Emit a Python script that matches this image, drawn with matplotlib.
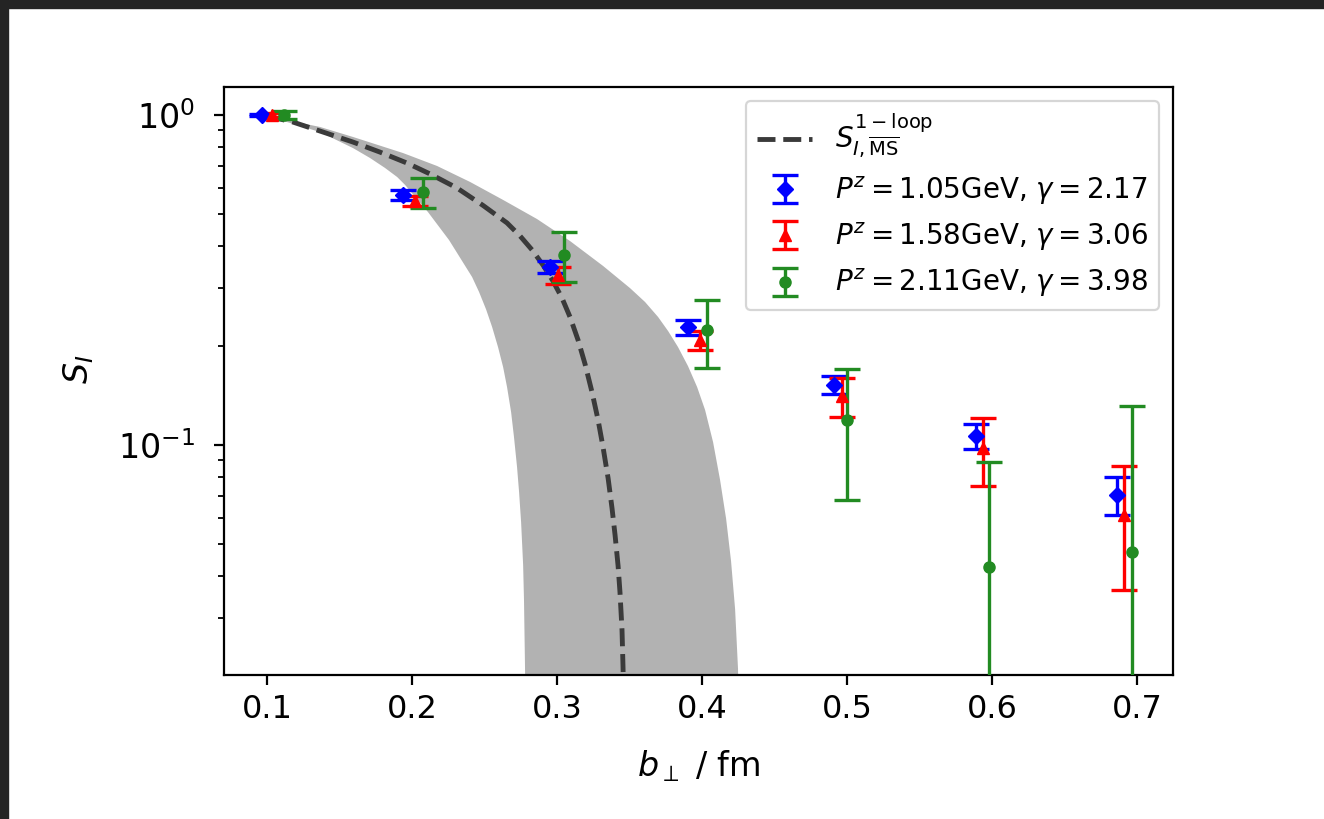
import numpy as np
import matplotlib
matplotlib.use("Agg")
import matplotlib.pyplot as plt
from matplotlib.patches import Rectangle

# ---------------- data ----------------
# one-loop curve (central) and its band edges: (b_perp [fm], S_I)
curve_b = [0.1000, 0.1179, 0.1366, 0.1593, 0.1779, 0.1966, 0.2124, 0.2310, 0.2490,
           0.2655, 0.2745, 0.2828, 0.2903, 0.2972, 0.3034, 0.3090, 0.3145, 0.3193,
           0.3241, 0.3283, 0.3317, 0.3352, 0.3379, 0.3400, 0.3421, 0.3434, 0.3448,
           0.3455, 0.3462]
curve_s = [0.993, 0.952, 0.894, 0.828, 0.772, 0.715, 0.663, 0.601, 0.532,
           0.471, 0.430, 0.390, 0.351, 0.314, 0.279, 0.244, 0.208, 0.176,
           0.1447, 0.1191, 0.0986, 0.0794, 0.0644, 0.0534, 0.0430, 0.0358, 0.0275,
           0.0212, 0.015]

band_lo_b = [0.1000, 0.1366, 0.1593, 0.1710, 0.1814, 0.1897, 0.1952, 0.2110, 0.2255,
             0.2414, 0.2462, 0.2510, 0.2552, 0.2593, 0.2628, 0.2655, 0.2683, 0.2703,
             0.2724, 0.2738, 0.2752, 0.2766, 0.2772, 0.2779, 0.2783]
band_lo_s = [0.993, 0.888, 0.794, 0.741, 0.691, 0.649, 0.614, 0.508, 0.418,
             0.323, 0.291, 0.258, 0.228, 0.198, 0.1723, 0.1499, 0.1259, 0.1057,
             0.0858, 0.0721, 0.0584, 0.0433, 0.0339, 0.0212, 0.015]

band_hi_b = [0.1000, 0.1366, 0.1593, 0.1938, 0.2172, 0.2400, 0.2628, 0.2862, 0.3090,
             0.3317, 0.3503, 0.3607, 0.3697, 0.3766, 0.3834, 0.3903, 0.3966, 0.4021,
             0.4076, 0.4124, 0.4166, 0.4200, 0.4228, 0.4248, 0.4255]
band_hi_s = [0.993, 0.920, 0.858, 0.767, 0.701, 0.627, 0.553, 0.484, 0.415,
             0.349, 0.299, 0.2713, 0.2443, 0.2215, 0.1982, 0.1735, 0.1499, 0.1277,
             0.1021, 0.0785, 0.0598, 0.0445, 0.0318, 0.0210, 0.015]

# lattice data
b_blue = [0.0966, 0.194, 0.295, 0.390, 0.491, 0.589, 0.686]
S_blue = [1.0, 0.572, 0.346, 0.228, 0.152, 0.1065, 0.0706]
e_blue = [0.010, 0.020, 0.015, 0.012, 0.0095, 0.009, 0.0092]

b_red = [0.1034, 0.202, 0.3007, 0.3986, 0.4966, 0.5938, 0.691]
S_red = [1.0, 0.549, 0.327, 0.208, 0.141, 0.098, 0.0614]
e_red = [0.012, 0.020, 0.020, 0.014, 0.019, 0.023, 0.025]

b_green = [0.1117, 0.2076, 0.3048, 0.4034, 0.500, 0.598, 0.6966]
S_green = [1.0, 0.584, 0.376, 0.223, 0.119, 0.0427, 0.0474]
e_green = [0.025, 0.062, 0.065, 0.052, 0.051, 0.046, 0.084]

x_ticks = [0.1, 0.2, 0.3, 0.4, 0.5, 0.6, 0.7]
x_ticklabels = ['0.1', '0.2', '0.3', '0.4', '0.5', '0.6', '0.7']

labels = [r'$S_{I,\overline{\rm MS}}^{1-{\rm loop}}$',
          r'$P^z = 1.05$GeV, $\gamma = 2.17$',
          r'$P^z = 1.58$GeV, $\gamma = 3.06$',
          r'$P^z = 2.11$GeV, $\gamma = 3.98$']

# ---------------- figure ----------------
plt.rcParams['font.family'] = ['DejaVu Sans']
plt.rcParams['mathtext.fontset'] = 'dejavusans'

fig = plt.figure(figsize=(13.24, 8.19), dpi=100)
ax = fig.add_axes([224/1324, 1-675/819, (1173-224)/1324, (675-87)/819])

ax.fill(np.concatenate([band_hi_b, band_lo_b[::-1]]),
        np.concatenate([band_hi_s, band_lo_s[::-1]]),
        color='gray', alpha=0.6, lw=0, zorder=1)
ax.plot(curve_b, curve_s, ls='--', color='#3a3a3a', lw=3.5, zorder=2,
        label=labels[0])

ekw = dict(ls='none', elinewidth=2.4, capsize=9.5, capthick=2.4, zorder=3)
ax.errorbar(b_blue, S_blue, yerr=e_blue, fmt='D', color='blue', ms=8.5,
            label=labels[1], **ekw)
ax.errorbar(b_red, S_red, yerr=e_red, fmt='^', color='red', ms=8,
            label=labels[2], **ekw)
ax.errorbar(b_green, S_green, yerr=e_green, fmt='o', color='forestgreen', ms=8,
            label=labels[3], **ekw)

ax.set_yscale('log')
ax.set_xlim(0.0703, 0.7248)
ax.set_ylim(0.0201, 1.216)
ax.set_xticks(x_ticks)
ax.set_xticklabels(x_ticklabels)

ax.tick_params(which='major', length=7, width=1.6)
ax.tick_params(which='minor', length=4, width=1.3)
ax.tick_params(axis='x', which='major', labelsize=23, pad=7)
ax.tick_params(axis='y', which='major', labelsize=24, pad=14)
for s in ax.spines.values():
    s.set_linewidth(1.6)

ax.set_xlabel(r'$b_\perp$ / fm', fontsize=24)
ax.set_ylabel(r'$S_I$', fontsize=24)
ax.xaxis.set_label_coords(0.5, -0.125)
ax.yaxis.set_label_coords(-0.135, 0.52)

leg = ax.legend(loc='upper right', fontsize=20,
                borderaxespad=0.5, framealpha=0.8, edgecolor='0.8')
leg.get_frame().set_linewidth(1.6)

# dark screenshot frame on top / left
fig.patches.append(Rectangle((0, 1-8/819), 1, 8/819, transform=fig.transFigure,
                             color='#242424', zorder=10))
fig.patches.append(Rectangle((0, 0), 8/1324, 1, transform=fig.transFigure,
                             color='#242424', zorder=10))

fig.savefig('out.png', dpi=100)
